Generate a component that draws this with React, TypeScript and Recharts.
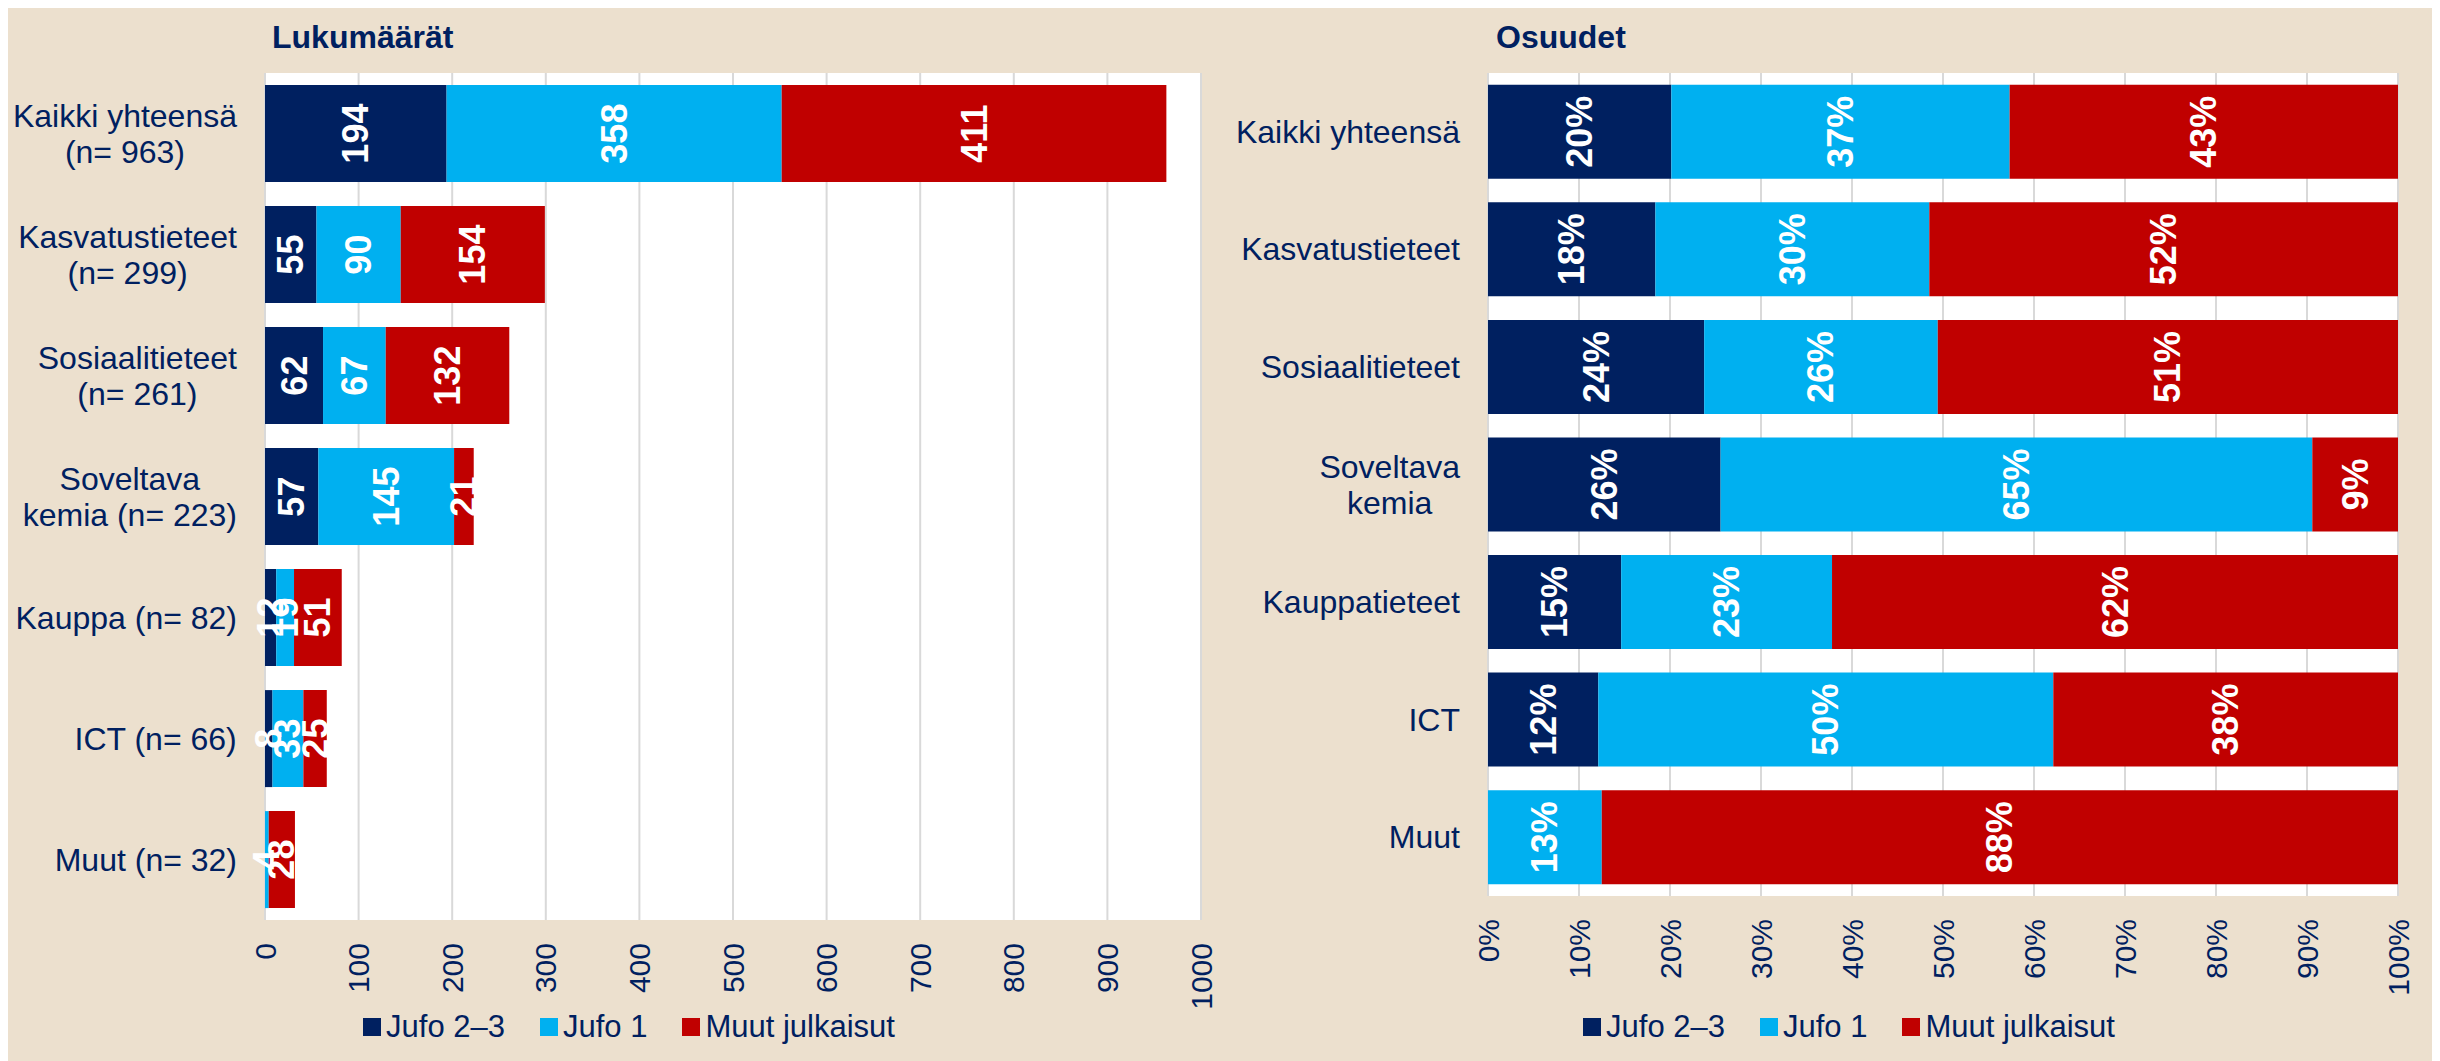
import React from 'react';
import { BarChart, Bar, XAxis, YAxis, CartesianGrid, Legend, LabelList } from 'recharts';

// Counts per field
const leftCategories = [
  'Kaikki yhteensä\n(n= 963)',
  'Kasvatustieteet\n(n= 299)',
  'Sosiaalitieteet\n(n= 261)',
  'Soveltava\nkemia (n= 223)',
  'Kauppa (n= 82)',
  'ICT (n= 66)',
  'Muut (n= 32)',
];
const rightCategories = [
  'Kaikki yhteensä',
  'Kasvatustieteet',
  'Sosiaalitieteet',
  'Soveltava\nkemia',
  'Kauppatieteet',
  'ICT',
  'Muut',
];
const jufo23 = [194, 55, 62, 57, 12, 8, 0];
const jufo1 = [358, 90, 67, 145, 19, 33, 4];
const muut = [411, 154, 132, 21, 51, 25, 28];

const seriesNames = ['Jufo 2–3', 'Jufo 1', 'Muut julkaisut'];
const countTicks = [0, 100, 200, 300, 400, 500, 600, 700, 800, 900, 1000];
const shareTicks = [0, 0.1, 0.2, 0.3, 0.4, 0.5, 0.6, 0.7, 0.8, 0.9, 1];

const NAVY = '#002060';
const CYAN = '#00B0F0';
const RED = '#C00000';
const BEIGE = '#ECE0CE';
const FONT = "'Liberation Sans', Arial, sans-serif";
const colors = [NAVY, CYAN, RED];

const pct = (v: number, total: number) => (v === 0 ? '' : `${Math.round((100 * v) / total)}%`);

const leftData = leftCategories.map((name, i) => ({
  name,
  a: jufo23[i],
  b: jufo1[i],
  c: muut[i],
}));

const rightData = rightCategories.map((name, i) => {
  const total = jufo23[i] + jufo1[i] + muut[i];
  return {
    name,
    a: jufo23[i],
    b: jufo1[i],
    c: muut[i],
    aPct: pct(jufo23[i], total),
    bPct: pct(jufo1[i], total),
    cPct: pct(muut[i], total),
  };
});

let measureCtx: CanvasRenderingContext2D | null = null;
function textWidth(s: string, font: string) {
  if (!measureCtx) measureCtx = document.createElement('canvas').getContext('2d');
  if (!measureCtx) return s.length * 16;
  measureCtx.font = font;
  return measureCtx.measureText(s).width;
}

const CategoryTick = (props: any) => {
  const { x, y, payload } = props;
  const lines = String(payload.value).split('\n');
  const right = x - 28;
  const maxW = Math.max(...lines.map((l) => textWidth(l, `32px ${FONT}`)));
  const cx = right - maxW / 2;
  const lh = 36;
  const y0 = y - ((lines.length - 1) * lh) / 2;
  return (
    <g>
      {lines.map((l, i) => (
        <text
          key={i}
          x={cx}
          y={y0 + i * lh}
          textAnchor="middle"
          dominantBaseline="central"
          fill={NAVY}
          fontSize={32}
          fontFamily={FONT}
        >
          {l}
        </text>
      ))}
    </g>
  );
};

const makeValueTick = (fmt: (v: number) => string) => (props: any) => {
  const { x, y, payload } = props;
  const ty = y + 23;
  return (
    <text
      x={x}
      y={ty}
      transform={`rotate(-90 ${x} ${ty})`}
      textAnchor="end"
      dominantBaseline="central"
      fill={NAVY}
      fontSize={30}
      fontFamily={FONT}
    >
      {fmt(payload.value)}
    </text>
  );
};

const CountTick = makeValueTick((v) => String(v));
const ShareTick = makeValueTick((v) => `${Math.round(v * 100)}%`);

const BarLabel = (props: any) => {
  const vb = props.viewBox && props.viewBox.width !== undefined ? props.viewBox : props;
  const { x, y, width, height } = vb;
  const value = props.value;
  if (value === '' || value === null || value === undefined) return null;
  const cx = x + width / 2;
  const cy = y + height / 2;
  return (
    <text
      x={cx}
      y={cy}
      transform={`rotate(-90 ${cx} ${cy})`}
      textAnchor="middle"
      dominantBaseline="central"
      fill="#fff"
      fontWeight="bold"
      fontSize={36}
      fontFamily={FONT}
    >
      {value}
    </text>
  );
};

const LegendContent = () => (
  <div style={{ display: 'flex', justifyContent: 'center', alignItems: 'center', height: 40 }}>
    {seriesNames.map((n, i) => (
      <div key={n} style={{ display: 'flex', alignItems: 'center', marginRight: i < 2 ? 35 : 0 }}>
        <div style={{ width: 18, height: 18, background: colors[i], marginRight: 5 }} />
        <span style={{ color: NAVY, fontSize: 31, fontFamily: FONT, lineHeight: '40px' }}>{n}</span>
      </div>
    ))}
  </div>
);

export default function App() {
  return (
    <div style={{ position: 'relative', width: 2432, height: 1053, background: BEIGE, overflow: 'hidden' }}>
      <div style={{ position: 'absolute', left: 0, top: 0 }}>
        <BarChart
          width={1212}
          height={1053}
          data={leftData}
          layout="vertical"
          barCategoryGap="10%"
          margin={{ top: 65, right: 19, left: 0, bottom: 41 }}
        >
          <CartesianGrid horizontal={false} stroke="#D9D9D9" strokeWidth={2} fill="#fff" />
          <XAxis
            type="number"
            domain={[0, 1000]}
            ticks={countTicks}
            height={100}
            axisLine={false}
            tickLine={false}
            tickSize={0}
            tickMargin={0}
            tick={<CountTick />}
            interval={0}
          />
          <YAxis
            type="category"
            dataKey="name"
            width={257}
            axisLine={false}
            tickLine={false}
            tickSize={0}
            tickMargin={0}
            tick={<CategoryTick />}
            interval={0}
          />
          <Legend
            verticalAlign="middle"
            align="center"
            layout="horizontal"
            content={<LegendContent />}
            wrapperStyle={{ left: 321, width: 600, top: 999, height: 40 }}
          />
          <Bar dataKey="a" name={seriesNames[0]} stackId="s" fill={NAVY} isAnimationActive={false}>
            <LabelList dataKey="a" content={<BarLabel />} />
          </Bar>
          <Bar dataKey="b" name={seriesNames[1]} stackId="s" fill={CYAN} isAnimationActive={false}>
            <LabelList dataKey="b" content={<BarLabel />} />
          </Bar>
          <Bar dataKey="c" name={seriesNames[2]} stackId="s" fill={RED} isAnimationActive={false}>
            <LabelList dataKey="c" content={<BarLabel />} />
          </Bar>
        </BarChart>
      </div>

      <div style={{ position: 'absolute', left: 1212, top: 0 }}>
        <BarChart
          width={1220}
          height={1053}
          data={rightData}
          layout="vertical"
          stackOffset="expand"
          barCategoryGap="10%"
          margin={{ top: 65, right: 42, left: 0, bottom: 65 }}
        >
          <CartesianGrid horizontal={false} stroke="#D9D9D9" strokeWidth={2} fill="#fff" />
          <XAxis
            type="number"
            domain={[0, 1]}
            ticks={shareTicks}
            height={100}
            axisLine={false}
            tickLine={false}
            tickSize={0}
            tickMargin={0}
            tick={<ShareTick />}
            interval={0}
          />
          <YAxis
            type="category"
            dataKey="name"
            width={268}
            axisLine={false}
            tickLine={false}
            tickSize={0}
            tickMargin={0}
            tick={<CategoryTick />}
            interval={0}
          />
          <Legend
            verticalAlign="middle"
            align="center"
            layout="horizontal"
            content={<LegendContent />}
            wrapperStyle={{ left: 329, width: 600, top: 999, height: 40 }}
          />
          <Bar dataKey="a" name={seriesNames[0]} stackId="s" fill={NAVY} isAnimationActive={false}>
            <LabelList dataKey="aPct" content={<BarLabel />} />
          </Bar>
          <Bar dataKey="b" name={seriesNames[1]} stackId="s" fill={CYAN} isAnimationActive={false}>
            <LabelList dataKey="bPct" content={<BarLabel />} />
          </Bar>
          <Bar dataKey="c" name={seriesNames[2]} stackId="s" fill={RED} isAnimationActive={false}>
            <LabelList dataKey="cPct" content={<BarLabel />} />
          </Bar>
        </BarChart>
      </div>

      <svg width={2432} height={1053} style={{ position: 'absolute', left: 0, top: 0, pointerEvents: 'none' }}>
        <text x={264} y={40} fill={NAVY} fontSize={32} fontWeight="bold" fontFamily={FONT}>
          Lukumäärät
        </text>
        <text x={1488} y={40} fill={NAVY} fontSize={32} fontWeight="bold" fontFamily={FONT}>
          Osuudet
        </text>
      </svg>
    </div>
  );
}
